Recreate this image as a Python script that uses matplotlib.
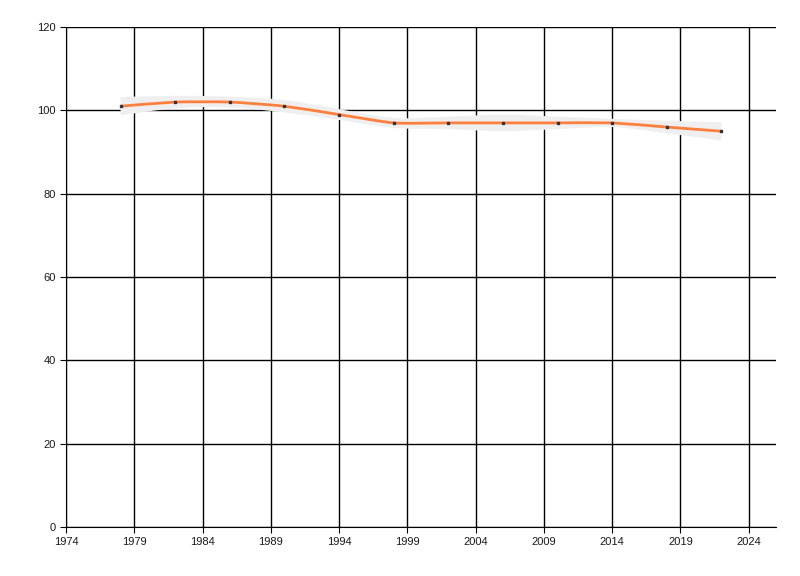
import numpy as np
import matplotlib
matplotlib.use("Agg")
import matplotlib.pyplot as plt
from matplotlib.path import Path
from matplotlib.patches import PathPatch

years = [1978, 1982, 1986, 1990, 1994, 1998, 2002, 2006, 2010, 2014, 2018, 2022]
values = [101, 102, 102, 101, 99, 97, 97, 97, 97, 97, 96, 95]
spread = [2.2, 1.5, 1.3, 1.5, 1.3, 1.2, 1.5, 2.0, 1.5, 1.0, 1.5, 2.2]

x_ticks = list(range(1974, 2025, 5))
y_ticks = list(range(0, 121, 20))


def smooth_verts(xs, ys, tension=0.3):
    # cardinal spline -> bezier control points for a Path
    xs = np.asarray(xs, float)
    ys = np.asarray(ys, float)
    n = len(xs)
    verts = [(xs[0], ys[0])]
    codes = [Path.MOVETO]
    for i in range(n - 1):
        p0 = i - 1 if i > 0 else i
        p3 = i + 2 if i + 2 < n else i + 1
        c1 = (xs[i] + (xs[i + 1] - xs[p0]) * tension / 3,
              ys[i] + (ys[i + 1] - ys[p0]) * tension / 3)
        c2 = (xs[i + 1] - (xs[p3] - xs[i]) * tension / 3,
              ys[i + 1] - (ys[p3] - ys[i]) * tension / 3)
        verts += [c1, c2, (xs[i + 1], ys[i + 1])]
        codes += [Path.CURVE4] * 3
    return verts, codes


fig = plt.figure(figsize=(8, 5.76), dpi=100)
ax = fig.add_axes([0.0825, 0.085, 0.8875, 0.868])

# confidence band
upper = np.array(values) + np.array(spread)
lower = np.array(values) - np.array(spread)
uv, uc = smooth_verts(years, upper, 0.5)
lv, lc = smooth_verts(years[::-1], lower[::-1], 0.5)
band_verts = uv + [lv[0]] + lv[1:] + [uv[0]]
band_codes = uc + [Path.LINETO] + lc[1:] + [Path.CLOSEPOLY]
ax.add_patch(PathPatch(Path(band_verts, band_codes), facecolor="#efefef",
                       edgecolor="none", zorder=3))

# smoothed line
lv2, lc2 = smooth_verts(years, values)
ax.add_patch(PathPatch(Path(lv2, lc2), facecolor="none", edgecolor="#ff7f3f",
                       lw=2, zorder=4))
ax.plot(years, values, ls="none", marker="s", ms=2, color="#333333", zorder=5)

ax.set_xlim(1974, 2026)
ax.set_ylim(0, 120)
ax.set_xticks(x_ticks)
ax.set_yticks(y_ticks)
ax.grid(True, color="black", lw=1)
ax.set_axisbelow(True)
for s in ["top", "right"]:
    ax.spines[s].set_visible(False)
for s in ["left", "bottom"]:
    ax.spines[s].set_color("black")
ax.tick_params(labelsize=8, length=4, color="black", labelcolor="#1a1a1a")
for lab in ax.get_xticklabels() + ax.get_yticklabels():
    lab.set_family("Liberation Sans")

fig.savefig("out.png", dpi=100)
